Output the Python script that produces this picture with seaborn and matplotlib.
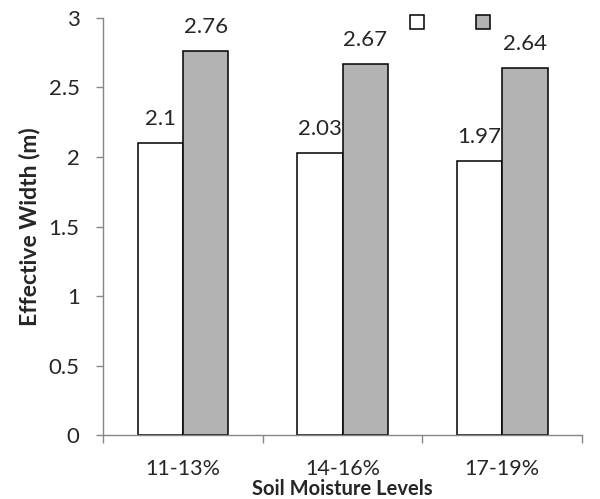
import pandas as pd
import matplotlib
matplotlib.use('Agg')
import matplotlib.pyplot as plt
import seaborn as sns
from matplotlib.patches import Patch

categories = ['11-13%', '14-16%', '17-19%']
series_names = ['Series 1', 'Series 2']
series_1 = [2.1, 2.03, 1.97]
series_2 = [2.76, 2.67, 2.64]
y_ticks = [0, 0.5, 1, 1.5, 2, 2.5, 3]

df = pd.DataFrame({
    'Level': categories * 2,
    'Series': [series_names[0]] * 3 + [series_names[1]] * 3,
    'Width': series_1 + series_2,
})

sns.set_style('white')
plt.rcParams['font.family'] = ['Lato', 'DejaVu Sans']

fig = plt.figure(figsize=(6, 4.99), dpi=100)
ax = fig.add_axes([0.172, 0.128, 0.798, 0.836])

colors = ['#ffffff', '#b3b3b3']
sns.barplot(data=df, x='Level', y='Width', hue='Series', order=categories,
            hue_order=series_names, palette=colors, width=0.57,
            edgecolor='black', linewidth=1.1, ax=ax, legend=False)

for c in ax.containers:
    ax.bar_label(c, fmt='%g', padding=10, fontsize=16)

ax.set_ylim(0, 3)
ax.set_xlim(-0.5, 2.5)
ax.set_yticks(y_ticks)
ax.set_yticklabels(['%g' % t for t in y_ticks])

grey = '#868686'
for s in ['top', 'right']:
    ax.spines[s].set_visible(False)
for s in ['left', 'bottom']:
    ax.spines[s].set_color(grey)
    ax.spines[s].set_linewidth(1.0)

ax.tick_params(axis='y', direction='out', length=5, width=1, color=grey,
               pad=12, labelsize=16, left=True)
ax.tick_params(axis='x', which='major', length=0, pad=17, labelsize=15.5)
ax.set_xticks([-0.5, 0.5, 1.5, 2.5], minor=True)
ax.tick_params(axis='x', which='minor', direction='out', length=6, width=1,
               color=grey, bottom=True)

ax.set_xlabel('Soil Moisture Levels', fontsize=14.5, fontweight='bold', labelpad=0)
ax.set_ylabel('Effective Width (m)', fontsize=16.5, fontweight='bold', labelpad=6)

handles = [Patch(facecolor=colors[i], edgecolor='black', linewidth=1.1)
           for i in range(2)]
fig.legend(handles, ['', ''], ncol=2, loc='center', bbox_to_anchor=(0.75, 0.953),
           frameon=False, handlelength=0.75, handleheight=0.75,
           handletextpad=0, columnspacing=2.65, borderpad=0, fontsize=14)

fig.savefig('out.png', dpi=100)
